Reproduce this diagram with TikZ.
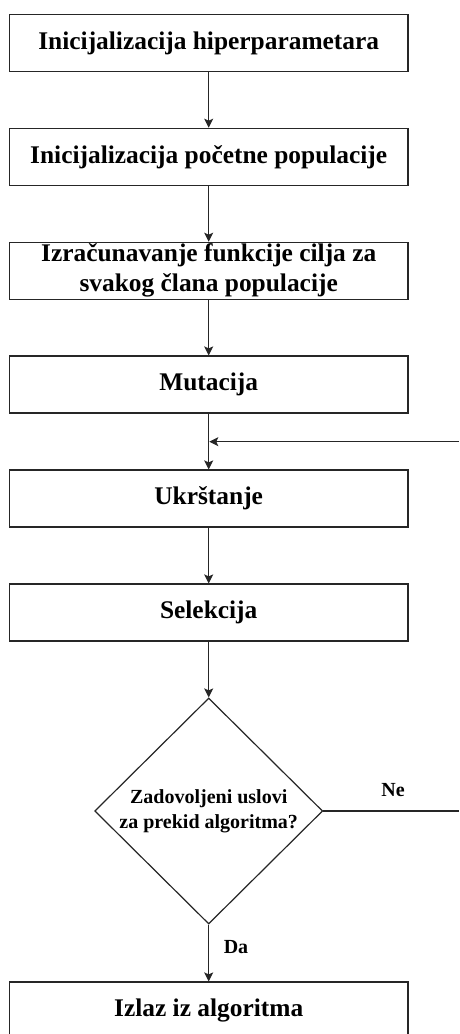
\documentclass[tikz,border=0pt]{standalone}
\usepackage{fontspec}
\setmainfont{Liberation Serif}
\usetikzlibrary{shapes.geometric,arrows.meta}
\begin{document}
\begin{tikzpicture}[x=1pt,y=-1pt,
  boxnode/.style={draw=black!85,line width=1.2pt,minimum width=398.5pt,minimum height=57pt,inner sep=0pt,
    font=\fontsize{25.4pt}{30pt}\selectfont\bfseries,align=center},
  decnode/.style={draw=black!85,line width=1.2pt,shape=diamond,aspect=1,minimum width=228pt,minimum height=226pt,inner sep=0pt,
    font=\fontsize{20pt}{25pt}\selectfont\bfseries,align=center},
  lbl/.style={font=\fontsize{20pt}{24pt}\selectfont\bfseries,inner sep=0pt},
  conn/.style={draw=black!85,line width=1.2pt,-{Stealth[length=9pt,width=9pt,inset=2pt]}},
  plain/.style={draw=black!85,line width=1.2pt}]
\useasboundingbox (0,0) rectangle (459,1034);
\node[boxnode] (b1) at (208.7,43) {Inicijalizacija hiperparametara};
\node[boxnode] (b2) at (208.7,156.8) {Inicijalizacija početne populacije};
\node[boxnode] (b3) at (208.7,270.8) {Izračunavanje funkcije cilja za\\svakog člana populacije};
\node[boxnode] (b4) at (208.7,384.5) {Mutacija};
\node[boxnode] (b5) at (208.7,498.5) {Ukrštanje};
\node[boxnode] (b6) at (208.7,612.5) {Selekcija};
\node[decnode] (d) at (208.7,811) {Zadovoljeni uslovi\\za prekid algoritma?};
\node[boxnode] (b7) at (208.7,1010.5) {Izlaz iz algoritma};
\coordinate (fb) at (208.7,441.7);
\coordinate (r2) at (459,441.7);
\coordinate (r1) at (459,811);
\draw[conn] (b1) -- (b2);
\draw[conn] (b2) -- (b3);
\draw[conn] (b3) -- (b4);
\draw[conn] (b4) -- (b5);
\draw[conn] (b5) -- (b6);
\draw[conn] (b6) -- (d);
\draw[conn] (d) -- (b7);
\draw[plain] (d.east) -- (r1);
\draw[conn] (r2) -- ([xshift=0.6pt]fb);
\node[lbl] (ne) at (393,790) {Ne};
\node[lbl] (da) at (236,947) {Da};
\end{tikzpicture}
\end{document}
